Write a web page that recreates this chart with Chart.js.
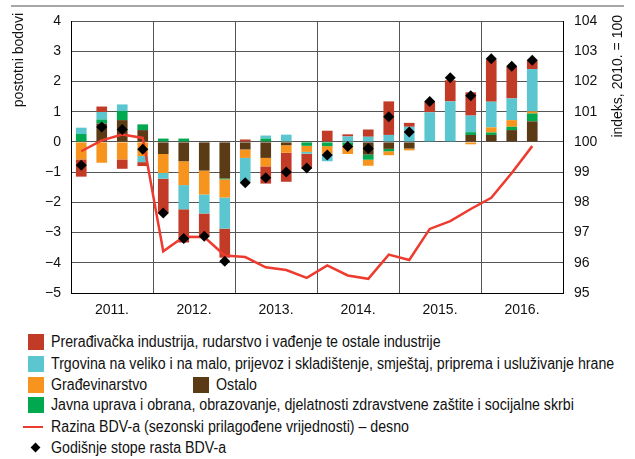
<!DOCTYPE html>
<html>
<head>
<meta charset="utf-8">
<script src="https://cdn.jsdelivr.net/npm/chart.js@4"></script>
<style>
  body { margin: 0; background: #fff; }
  #wrap { position: relative; width: 635px; height: 459px; font-family: "Liberation Sans Narrow", "Arial Narrow", "Liberation Sans", sans-serif; color: #111; overflow: hidden; }
  #chart { position: absolute; left: 0; top: 0; }
  .sw { position: absolute; width: 16px; height: 16px; }
  .txt { position: absolute; font-size: 16px; line-height: 18px; white-space: nowrap; transform-origin: 0 50%; }
</style>
</head>
<body>
<div id="wrap">
  <canvas id="chart" width="635" height="320"></canvas>

  <div class="sw" style="left:28px; top:334px; background:#C23B27"></div>
  <div class="txt" style="left:51px; top:333px">Prerađivačka industrija, rudarstvo i vađenje te ostale industrije</div>

  <div class="sw" style="left:28px; top:356px; background:#5BC6D0"></div>
  <div class="txt" id="longest" style="left:51px; top:355px">Trgovina na veliko i na malo, prijevoz i skladištenje, smještaj, priprema i usluživanje hrane</div>

  <div class="sw" style="left:28px; top:377px; background:#F7941E"></div>
  <div class="txt" style="left:51px; top:376px">Građevinarstvo</div>
  <div class="sw" style="left:193px; top:377px; background:#5B3A16"></div>
  <div class="txt" style="left:216px; top:376px">Ostalo</div>

  <div class="sw" style="left:28px; top:397px; background:#00A94F"></div>
  <div class="txt" style="left:51px; top:396px">Javna uprava i obrana, obrazovanje, djelatnosti zdravstvene zaštite i socijalne skrbi</div>

  <div style="position:absolute; left:23px; top:426px; width:20px; height:2px; background:#EE3B2F"></div>
  <div class="txt" style="left:51px; top:418px">Razina BDV-a (sezonski prilagođene vrijednosti) – desno</div>

  <div style="position:absolute; left:32px; top:444px; width:7px; height:7px; background:#000; transform:rotate(45deg)"></div>
  <div class="txt" style="left:51px; top:439px">Godišnje stope rasta BDV-a</div>
</div>

<script>
// Quarters 2011 Q1 - 2016 Q4 (last quarter has no data yet)
const quarters = [
  "2011Q1", "2011Q2", "2011Q3", "2011Q4",
  "2012Q1", "2012Q2", "2012Q3", "2012Q4",
  "2013Q1", "2013Q2", "2013Q3", "2013Q4",
  "2014Q1", "2014Q2", "2014Q3", "2014Q4",
  "2015Q1", "2015Q2", "2015Q3", "2015Q4",
  "2016Q1", "2016Q2", "2016Q3", "2016Q4"
];
const years = ["2011.", "2012.", "2013.", "2014.", "2015.", "2016."];

// Contributions, percentage points
const ostalo = [0, 0.61, 0.72, 0.39, -0.40, -0.64, -0.95, -1.21, -0.25, -0.53, -0.11, 0,
  0, 0, -0.42, -0.23, -0.22, 0, 0, 0.23, 0.23, 0.39, 0.68, null];
const javnaUprava = [0.26, 0.13, 0.30, 0.19, 0.11, 0.11, 0.02, -0.03, 0, 0.11, 0, -0.13,
  -0.14, -0.12, -0.17, -0.08, 0, 0.02, 0.02, 0.09, 0.08, 0.11, 0.26, null];
const gradevinarstvo = [-0.58, -0.69, -0.58, -0.47, -0.63, -0.79, -0.79, -0.60, -0.28, -0.28, -0.25, -0.20,
  -0.25, -0.28, -0.20, -0.13, -0.06, 0, 0, -0.08, 0.17, 0.22, 0.07, null];
const trgovina = [0.21, 0.25, 0.22, -0.20, -0.19, -0.80, -0.63, -1.03, -0.80, 0.10, 0.24, -0.06,
  -0.25, 0.18, 0.17, 0.23, 0.50, 0.96, 1.32, 0.55, 0.85, 0.72, 1.40, null];
const industrija = [-0.57, 0.18, -0.31, -0.13, -1.14, -1.10, -0.75, -0.96, 0.08, -0.57, -0.96, -0.50,
  0.37, 0.07, 0.24, 1.11, 0.13, 0.35, 0.70, 0.77, 1.40, 1.04, 0.28, null];

// Annual growth rate of GVA (diamonds)
const stopeRasta = [-0.77, 0.49, 0.41, -0.24, -2.35, -3.20, -3.12, -3.95, -1.35, -1.19, -1.00, -0.86,
  -0.43, -0.15, -0.22, 0.83, 0.33, 1.34, 2.12, 1.53, 2.75, 2.50, 2.70, null];

// GVA level, index 2010 = 100 (right axis)
const razinaBDV = [99.69, 100.05, 100.24, 100.13, 96.38, 96.86, 96.85, 96.24, 96.19, 95.85, 95.76, 95.50,
  95.91, 95.58, 95.47, 96.27, 96.09, 97.12, 97.38, 97.78, 98.15, 98.97, 99.86, null];

const FONT = "'Liberation Sans Narrow', 'Arial Narrow', 'Liberation Sans', sans-serif";
const GRID = "#555";

// Squeeze legend text so the longest line ends where it does in the original
function condenseLegend() {
  const longest = document.getElementById("longest");
  const factor = Math.min(1, 563 / longest.offsetWidth);
  document.querySelectorAll(".txt").forEach(function (el) {
    el.style.transform = "scaleX(" + factor + ")";
  });
}
condenseLegend();

function minusSign(value) {
  return String(value).replace("-", "\u2212");
}

function barSet(label, data, color) {
  return {
    type: "bar",
    label: label,
    data: data,
    backgroundColor: color,
    borderWidth: 0,
    barPercentage: 0.52,
    categoryPercentage: 1,
    stack: "s",
    yAxisID: "y",
    order: 2
  };
}

// Top rule and rotated axis titles
const decorations = {
  id: "decorations",
  afterDraw(chart) {
    const ctx = chart.ctx;
    ctx.save();
    ctx.strokeStyle = "#888";
    ctx.lineWidth = 1.5;
    ctx.beginPath();
    ctx.moveTo(11, 6);
    ctx.lineTo(624, 6);
    ctx.stroke();

    ctx.fillStyle = "#111";
    ctx.font = "14px " + FONT;
    ctx.textAlign = "right";
    ctx.textBaseline = "middle";

    ctx.save();
    ctx.translate(19, 13);
    ctx.rotate(-Math.PI / 2);
    ctx.fillText("postotni bodovi", 0, 0);
    ctx.restore();

    ctx.save();
    ctx.translate(618, 15);
    ctx.rotate(-Math.PI / 2);
    ctx.fillText("indeks, 2010. = 100", 0, 0);
    ctx.restore();

    ctx.restore();
  }
};

Chart.defaults.font.family = FONT;
Chart.defaults.font.size = 14;
Chart.defaults.color = "#111";

new Chart(document.getElementById("chart"), {
  data: {
    labels: quarters,
    datasets: [
      {
        type: "line",
        label: "Godišnje stope rasta BDV-a",
        data: stopeRasta,
        showLine: false,
        pointStyle: "rectRot",
        pointRadius: 5.5,
        backgroundColor: "#000",
        borderColor: "#000",
        borderWidth: 0,
        yAxisID: "y",
        order: 0
      },
      {
        type: "line",
        label: "Razina BDV-a (sezonski prilagođene vrijednosti) – desno",
        data: razinaBDV,
        borderColor: "#EE3B2F",
        borderWidth: 2.5,
        pointRadius: 0,
        tension: 0,
        yAxisID: "y2",
        order: 1
      },
      barSet("Ostalo", ostalo, "#5B3A16"),
      barSet("Javna uprava", javnaUprava, "#00A94F"),
      barSet("Građevinarstvo", gradevinarstvo, "#F7941E"),
      barSet("Trgovina", trgovina, "#5BC6D0"),
      barSet("Prerađivačka industrija", industrija, "#C23B27")
    ]
  },
  options: {
    responsive: false,
    animation: false,
    layout: { padding: { top: 21, left: 0, right: 0, bottom: 0 } },
    plugins: {
      legend: { display: false },
      tooltip: { enabled: false }
    },
    scales: {
      x: {
        display: false,
        stacked: true,
        offset: true
      },
      years: {
        type: "category",
        labels: years,
        position: "bottom",
        offset: true,
        grid: { offset: true, color: GRID, lineWidth: 1, drawTicks: false },
        border: { color: "#000", width: 1 },
        ticks: { padding: 9, maxRotation: 0, font: { size: 14 } },
        afterFit(scale) { scale.height = 27; }
      },
      y: {
        position: "left",
        stacked: true,
        min: -5,
        max: 4,
        ticks: { stepSize: 1, padding: 10, callback: minusSign },
        grid: { color: GRID, lineWidth: 1, drawTicks: false },
        border: { color: "#000", width: 1 },
        afterFit(scale) { scale.width = 71; }
      },
      y2: {
        position: "right",
        min: 95,
        max: 104,
        ticks: { stepSize: 1, padding: 11 },
        grid: { display: false, drawTicks: false },
        border: { color: "#000", width: 1 },
        afterFit(scale) { scale.width = 72; }
      }
    }
  },
  plugins: [decorations]
});
</script>
</body>
</html>
